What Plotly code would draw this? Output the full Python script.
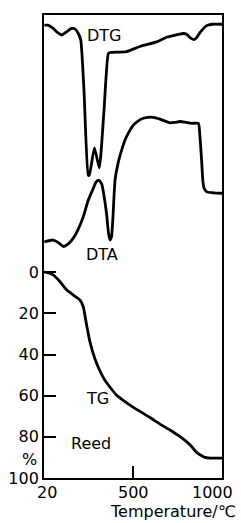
import plotly.graph_objects as go

# Temperature (°C) readings for each curve
dtg_temp = [0, 20, 50, 71, 98, 122, 154, 172, 191, 205, 223, 247, 253, 282, 309, 336, 360, 370,
            463, 538, 632, 689, 782, 803, 820, 842, 859, 876, 914, 944, 1000]
dtg_val = [97.8, 97.8, 97.1, 96.3, 95.7, 96.3, 97.1, 97.0, 96.0, 94.6, 83.8, 65.4, 65.4, 71.3, 67.0,
           79.5, 91.7, 91.9, 92.1, 93.2, 94.2, 95.2, 96.0, 95.8, 95.1, 94.7, 95.2, 96.2, 97.7, 98.0, 98.0]

dta_temp = [0, 50, 77, 107, 133, 163, 189, 219, 247, 276, 291, 307, 323, 336, 351, 361, 370, 378,
            386, 398, 415, 435, 454, 473, 501, 527, 557, 583, 613, 651, 707, 735, 764, 797, 829,
            867, 876, 885, 893, 899, 914, 951, 1000]
dta_val = [51.0, 51.4, 50.9, 50.0, 50.5, 51.8, 53.6, 56.4, 60.0, 62.6, 63.9, 64.3, 63.5, 60.9, 56.8,
           52.9, 51.4, 52.1, 56.2, 64.4, 68.0, 70.8, 73.0, 74.5, 76.2, 77.1, 77.7, 77.9, 77.9, 77.5,
           76.7, 76.8, 77.0, 76.8, 76.6, 76.6, 73.7, 68.7, 63.9, 62.6, 61.8, 61.6, 61.5]

tg_temp = [0, 20, 50, 88, 126, 163, 201, 219, 238, 257, 285, 313, 341, 370, 407, 444, 501, 538,
           595, 651, 707, 764, 797, 829, 854, 876, 904, 932, 1000]
tg_loss = [0, 0.2, 1.3, 4.6, 8.7, 11.1, 13.6, 16.8, 25.8, 34.0, 42.2, 48.0, 52.5, 55.9, 59.8, 62.3,
           65.7, 67.6, 70.6, 73.8, 76.7, 79.9, 82.1, 84.7, 87.3, 88.7, 90.0, 90.3, 90.3]

y_ticks = [0, 20, 40, 60, 80, 100]
x_labels = [20, 500, 1000]

FONT = "DejaVu Sans"
line = dict(color="black", width=2.8, shape="spline", smoothing=0.5)

fig = go.Figure()
fig.add_trace(go.Scatter(x=dtg_temp, y=dtg_val, mode="lines", line=line, yaxis="y2", cliponaxis=False))
fig.add_trace(go.Scatter(x=dta_temp, y=dta_val, mode="lines", line=line, yaxis="y2", cliponaxis=False))
fig.add_trace(go.Scatter(x=tg_temp, y=tg_loss, mode="lines", line=line, yaxis="y", cliponaxis=False))

font = dict(family=FONT, size=16, color="black")
base = dict(showarrow=False, font=font, xanchor="center", yanchor="middle")
ann = [
    dict(x=338, y=95.6, xref="x", yref="y2", text="DTG", **base),
    dict(x=323, y=48.3, xref="x", yref="y2", text="DTA", **base),
    dict(x=299, y=61.3, xref="x", yref="y", text="TG", **base),
    dict(x=260, y=83.3, xref="x", yref="y", text="Reed", **base),
    dict(x=-0.079, y=91.2, xref="paper", yref="y", text="%", **base),
]
shifts = {20: -0.5, 500: 0.5, 1000: -9.5}
for v in x_labels:
    ann.append(dict(x=v, y=-0.031, xref="x", yref="paper", text=str(v), xshift=shifts[v], **base))
ann.append(dict(x=0.725, y=-0.0725, xref="paper", yref="paper", text="Temperature/℃", **base))

fig.update_layout(
    width=241, height=523,
    margin=dict(l=44, r=19, t=15, b=45, autoexpand=False),
    plot_bgcolor="white", paper_bgcolor="white",
    showlegend=False,
    annotations=ann,
    xaxis=dict(range=[-2, 1000], tickvals=[500], ticks="inside", ticklen=12, tickwidth=1.5,
               tickcolor="black", showticklabels=False, showgrid=False, zeroline=False,
               showline=True, linecolor="black", linewidth=1.8, mirror=True, automargin=False),
    yaxis=dict(range=[100, -125], tickvals=y_ticks, ticktext=[str(v) for v in y_ticks],
               ticks="inside", ticklen=12, tickwidth=1.5, tickcolor="black",
               tickfont=font, showgrid=False, zeroline=False, automargin=False,
               showline=True, linecolor="black", linewidth=1.8, mirror=True),
    yaxis2=dict(range=[0, 100], overlaying="y", visible=False, showgrid=False, zeroline=False),
)

fig.write_html("out.html", config={"displayModeBar": False},
               post_script="document.body.style.margin='0px';")
